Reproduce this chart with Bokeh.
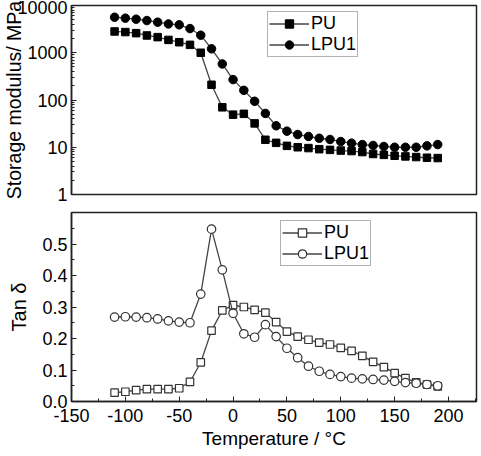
from bokeh.plotting import figure
from bokeh.layouts import column
from bokeh.models import (Range1d, LogTicker, SingleIntervalTicker, PrintfTickFormatter,
                          Legend, LegendItem, Title)
from bokeh.embed import file_html
from bokeh.resources import INLINE

temps = [-110, -100, -90, -80, -70, -60, -50, -40, -30, -20, -10, 0, 10, 20, 30, 40,
         50, 60, 70, 80, 90, 100, 110, 120, 130, 140, 150, 160, 170, 180, 190]
pu_modulus = [2820, 2740, 2600, 2320, 2140, 1870, 1670, 1470, 1000, 210, 70, 49, 51, 32,
              14.4, 12.4, 10.7, 10.0, 9.6, 9.1, 8.8, 8.5, 8.3, 7.9, 7.2, 6.9, 6.6, 6.4,
              6.2, 6.0, 5.9]
lpu_modulus = [5650, 5400, 5130, 4800, 4440, 4070, 3900, 3250, 2350, 1210, 580, 270, 160,
               94, 52, 28.5, 21.9, 18.6, 16.9, 15.5, 14.6, 13.2, 12.2, 11.4, 10.9, 10.4,
               10.0, 10.0, 10.0, 10.7, 11.4]
pu_tan = [0.028, 0.031, 0.036, 0.039, 0.039, 0.039, 0.042, 0.062, 0.124, 0.225, 0.289,
          0.306, 0.300, 0.291, 0.282, 0.252, 0.222, 0.206, 0.196, 0.187, 0.181, 0.170,
          0.161, 0.145, 0.126, 0.109, 0.090, 0.074, 0.061, 0.054, 0.048]
lpu_tan = [0.268, 0.269, 0.268, 0.266, 0.262, 0.256, 0.252, 0.250, 0.341, 0.547, 0.418,
           0.280, 0.215, 0.204, 0.244, 0.206, 0.169, 0.139, 0.112, 0.096, 0.086, 0.079,
           0.074, 0.072, 0.070, 0.068, 0.064, 0.060, 0.058, 0.054, 0.050]
series_names = ["PU", "LPU1"]
x_label = "Temperature / \u00b0C"
top_y_label = "Storage modulus/ MPa"
bottom_y_label = "Tan \u03b4"

FONT = "Liberation Sans"
FS = "18px"
FS_LABEL = "20px"
LINE = "#444444"

xr = Range1d(-150, 226)


def style_axes(p):
    for ax in p.axis:
        ax.major_label_text_font = FONT
        ax.major_label_text_font_size = FS
        ax.major_label_text_color = "black"
        ax.axis_label_text_font = FONT
        ax.axis_label_text_font_size = FS_LABEL
        ax.axis_label_text_font_style = "normal"
        ax.axis_label_text_color = "black"
        ax.major_tick_in = 5
        ax.major_tick_out = 0
        ax.minor_tick_in = 3
        ax.minor_tick_out = 0
        ax.axis_line_width = 1.5
        ax.axis_line_color = "#222222"
        ax.major_tick_line_color = "#222222"
        ax.minor_tick_line_color = "#222222"
        ax.major_label_standoff = 4
    p.grid.visible = False
    p.outline_line_color = "#222222"
    p.outline_line_width = 1.5


# ---------- top ----------
p1 = figure(frame_width=405, frame_height=189, x_range=xr,
            y_range=Range1d(1, 10000), y_axis_type="log",
            output_backend="svg", toolbar_location=None,
            min_border_top=5, min_border_bottom=12, min_border_left=71, min_border_right=5)
p1.yaxis.ticker = LogTicker(num_minor_ticks=10)
p1.yaxis.formatter = PrintfTickFormatter(format="%d")
p1.yaxis.axis_label = top_y_label
p1.xaxis.visible = False
style_axes(p1)
p1.yaxis.axis_label_text_font_size = "19.5px"
p1.yaxis.axis_label_standoff = -11

l1 = p1.line(temps, pu_modulus, line_color=LINE, line_width=1.3)
s1 = p1.scatter(temps, pu_modulus, marker="square", size=7.5, fill_color="black", line_color="black")
l2 = p1.line(temps, lpu_modulus, line_color=LINE, line_width=1.3)
s2 = p1.scatter(temps, lpu_modulus, marker="circle", size=8.5, fill_color="black", line_color="black")

leg1 = Legend(items=[LegendItem(label=series_names[0], renderers=[l1, s1]),
                     LegendItem(label=series_names[1], renderers=[l2, s2])],
              location=(196, 137))
p1.add_layout(leg1)

# ---------- bottom ----------
p2 = figure(frame_width=405, frame_height=189, x_range=xr,
            y_range=Range1d(0, 0.6),
            output_backend="svg", toolbar_location=None,
            min_border_top=6, min_border_bottom=55, min_border_left=71, min_border_right=5)
p2.xaxis.ticker = SingleIntervalTicker(interval=50, num_minor_ticks=2)
p2.yaxis.ticker = SingleIntervalTicker(interval=0.1, num_minor_ticks=2)
p2.yaxis.formatter = PrintfTickFormatter(format="%.1f")
p2.xaxis.formatter = PrintfTickFormatter(format="%d")
p2.yaxis.axis_label = bottom_y_label
style_axes(p2)
p2.yaxis.axis_label_standoff = 9
p2.xaxis.major_label_standoff = 7

l3 = p2.line(temps, pu_tan, line_color=LINE, line_width=1.3)
s3 = p2.scatter(temps, pu_tan, marker="square", size=7.5, fill_color="white", line_color="#333333", line_width=1.2)
l4 = p2.line(temps, lpu_tan, line_color=LINE, line_width=1.3)
s4 = p2.scatter(temps, lpu_tan, marker="circle", size=8.5, fill_color="white", line_color="#333333", line_width=1.2)

leg2 = Legend(items=[LegendItem(label=series_names[0], renderers=[l3, s3]),
                     LegendItem(label=series_names[1], renderers=[l4, s4])],
              location=(209, 135))
p2.add_layout(leg2)

for leg in (leg1, leg2):
    leg.label_text_font = FONT
    leg.label_text_font_size = FS
    leg.label_text_color = "black"
    leg.border_line_color = "#666666"
    leg.border_line_width = 1.2
    leg.background_fill_alpha = 1.0
    leg.padding = 1
    leg.spacing = 0
    leg.margin = 0
    leg.glyph_width = 40
    leg.glyph_height = 21
    leg.label_height = 21
    leg.label_standoff = 2

xtitle = Title(text=x_label, align="center", offset=-20, standoff=2,
               text_font=FONT, text_font_size="19px", text_font_style="normal",
               text_color="black")
p2.add_layout(xtitle, "below")

layout = column(p1, p2, spacing=0)
open("out.html", "w").write(file_html(layout, INLINE))
